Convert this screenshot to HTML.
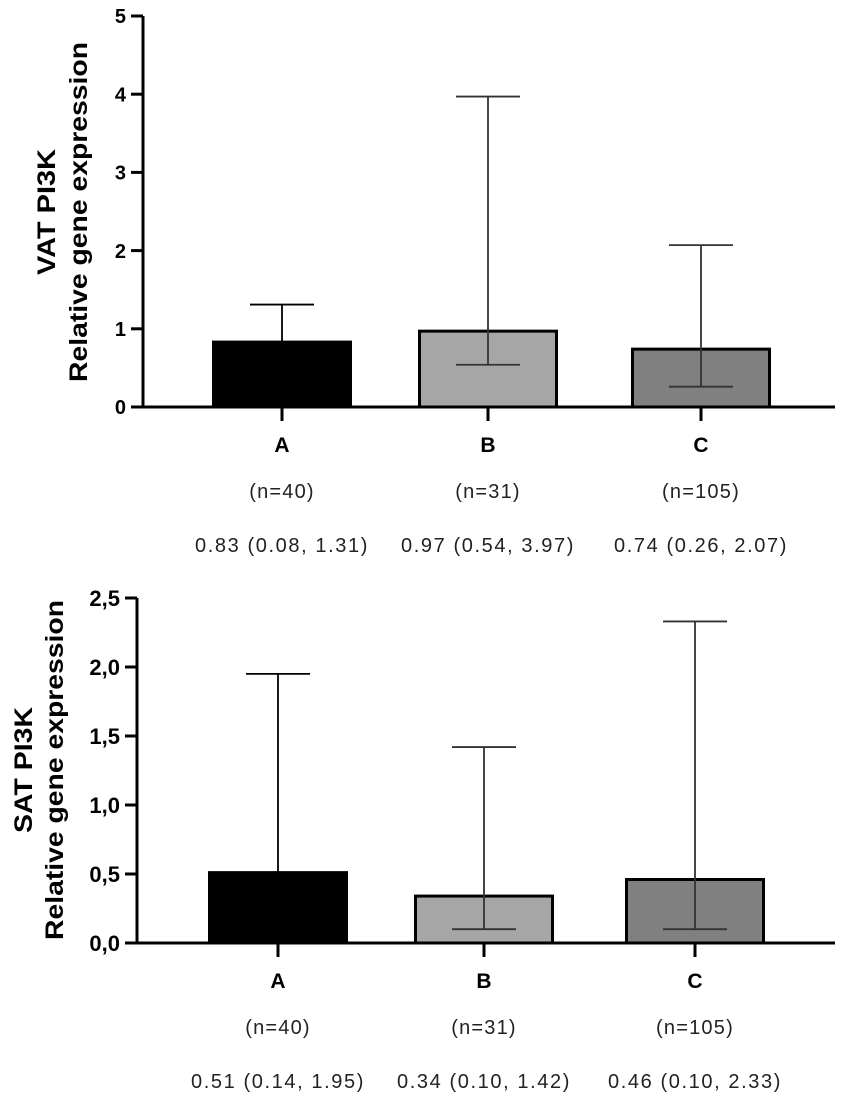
<!DOCTYPE html>
<html><head><meta charset="utf-8"><style>
body{margin:0;background:#fff;}
svg text{font-family:"Liberation Sans",Arial,sans-serif;}
</style></head><body>
<svg id="chart" width="851" height="1103" viewBox="0 0 851 1103" xmlns="http://www.w3.org/2000/svg"></svg>
<script>
const categories = ["A","B","C"];
const nLabels = ["(n=40)","(n=31)","(n=105)"];
const vatMedian = [0.83,0.97,0.74];
const vatLow = [0.08,0.54,0.26];
const vatHigh = [1.31,3.97,2.07];
const vatTicks = [0,1,2,3,4,5];
const vatTickLabels = ["0","1","2","3","4","5"];
const vatSummary = ["0.83 (0.08, 1.31)","0.97 (0.54, 3.97)","0.74 (0.26, 2.07)"];
const satMedian = [0.51,0.34,0.46];
const satLow = [0.14,0.10,0.10];
const satHigh = [1.95,1.42,2.33];
const satTicks = [0,0.5,1,1.5,2,2.5];
const satTickLabels = ["0,0","0,5","1,0","1,5","2,0","2,5"];
const satSummary = ["0.51 (0.14, 1.95)","0.34 (0.10, 1.42)","0.46 (0.10, 2.33)"];
const fills = ["#000000","#a6a6a6","#808080"];

const NS="http://www.w3.org/2000/svg";
const svg=document.getElementById('chart');
function mk(tag,attrs,parent){const e=document.createElementNS(NS,tag);for(const k in attrs)e.setAttribute(k,attrs[k]);(parent||svg).appendChild(e);return e;}

function panel(cfg){
  const g=mk('g',{});
  
  
  const y=v=>cfg.y0-(v-0)/(cfg.max)*(cfg.y0-cfg.yTop);
  const x=i=>cfg.centers[i];
  const ya=mk('line',{x1:cfg.ax,y1:cfg.yTop,x2:cfg.ax,y2:cfg.y0+1.5,stroke:'#000','stroke-width':3},g);
  
  
  const xa=mk('line',{x1:cfg.ax-12,y1:cfg.y0,x2:835,y2:cfg.y0,stroke:'#000','stroke-width':3},g);
  
  
  cfg.ticks.forEach((t,i)=>{
    mk('line',{x1:cfg.ax-12,y1:y(t),x2:cfg.ax,y2:y(t),stroke:'#000','stroke-width':3},g);
    const tl=mk('text',{x:cfg.ax-17,y:y(t)+cfg.tickFont*0.36,'text-anchor':'end','font-size':cfg.tickFont,'font-weight':'bold',fill:'#000'},g);
    tl.textContent=cfg.tickLabels[i];
    
    
  });
  const t1=mk('text',{transform:`translate(${cfg.t1x},${cfg.ty}) rotate(-90)`,'text-anchor':'middle','font-size':25,'font-weight':'bold',fill:'#000',textLength:126,lengthAdjust:'spacingAndGlyphs'},g);
  t1.textContent=cfg.title;
  
  
  const t2=mk('text',{transform:`translate(${cfg.t2x},${cfg.ty}) rotate(-90)`,'text-anchor':'middle','font-size':25,'font-weight':'bold',fill:'#000',textLength:340,lengthAdjust:'spacingAndGlyphs'},g);
  t2.textContent='Relative gene expression';
  
  
  categories.forEach((c,i)=>{
    const bw=137, cx=x(i);
    const r=mk('rect',{x:cx-bw/2,y:y(cfg.med[i]),width:bw,height:cfg.y0-y(cfg.med[i]),fill:fills[i],stroke:'#000','stroke-width':3},g);
    
    
    const eb=mk('path',{d:`M${cx},${y(cfg.hi[i])}V${y(cfg.low[i])}M${cx-32},${y(cfg.hi[i])}H${cx+32}M${cx-32},${y(cfg.low[i])}H${cx+32}`,stroke:i===0?'#000':'#333','stroke-width':1.8,fill:'none'},g);
    
    
    mk('line',{x1:cx,y1:cfg.y0,x2:cx,y2:cfg.y0+14,stroke:'#000','stroke-width':3},g);
    const cl=mk('text',{x:cx,y:cfg.y0+45,'text-anchor':'middle','font-size':21,'font-weight':'bold'},g);
    cl.textContent=c;
    
    
    const nl=mk('text',{x:cx,y:cfg.y0+91,'text-anchor':'middle','font-size':20,'letter-spacing':1.2,fill:'#222'},g);
    nl.textContent=nLabels[i];
    
    
    const sl=mk('text',{x:cx,y:cfg.y0+145,'text-anchor':'middle','font-size':20,'letter-spacing':1.6,fill:'#222'},g);
    sl.textContent=cfg.summary[i];
    
    
  });
}
panel({name:'vat-panel',ax:143,yTop:16,y0:407,max:5,ticks:vatTicks,tickLabels:vatTickLabels,tickFont:20,centers:[282,488,701],med:vatMedian,low:vatLow,hi:vatHigh,summary:vatSummary,title:'VAT PI3K',t1x:55,t2x:87,ty:212});
panel({name:'sat-panel',ax:137,yTop:598,y0:943,max:2.5,ticks:satTicks,tickLabels:satTickLabels,tickFont:22,centers:[278,484,695],med:satMedian,low:satLow,hi:satHigh,summary:satSummary,title:'SAT PI3K',t1x:32,t2x:63,ty:770});
</script>
</body></html>
